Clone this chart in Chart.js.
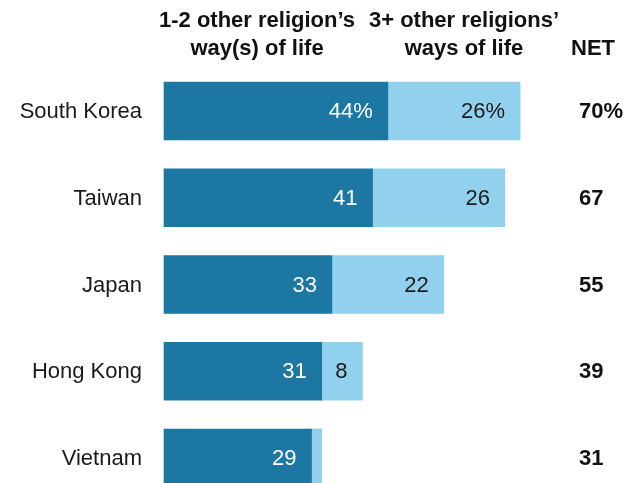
<!DOCTYPE html>
<html>
<head>
<meta charset="utf-8">
<script src="https://cdn.jsdelivr.net/npm/chart.js@4/dist/chart.umd.min.js"></script>
<style>
  html, body { margin: 0; padding: 0; background: #fff; }
  #wrap { width: 631px; height: 483px; position: relative; }
</style>
</head>
<body>
<div id="wrap"><canvas id="main"></canvas></div>
<script>
const countries = ["South Korea", "Taiwan", "Japan", "Hong Kong", "Vietnam"];
const fewReligions = [44, 41, 33, 31, 29];
const manyReligions = [26, 26, 22, 8, 2];
const netValues = [70, 67, 55, 39, 31];
const headers = [
  ["1-2 other religion\u2019s", "way(s) of life"],
  ["3+ other religions\u2019", "ways of life"]
];

const FONT = '"Liberation Sans", Arial, sans-serif';
const DARK = "#1c77a3";
const LIGHT = "#92d1ee";

const labels = {
  id: "labels",
  afterDatasetsDraw(chart) {
    const ctx = chart.ctx;
    const yScale = chart.scales.y;
    ctx.save();
    ctx.textBaseline = "middle";

    // values inside the bars
    chart.data.datasets.forEach((ds, di) => {
      const meta = chart.getDatasetMeta(di);
      meta.data.forEach((bar, i) => {
        const v = ds.data[i];
        if (v < 5) return;
        ctx.font = "22px " + FONT;
        ctx.textAlign = "right";
        ctx.fillStyle = di === 0 ? "#ffffff" : "#1a1a1a";
        ctx.fillText(i === 0 ? v + "%" : String(v), bar.x - 15, bar.y + 1);
      });
    });

    // country names + NET column
    countries.forEach((c, i) => {
      const y = yScale.getPixelForValue(i) + 1;
      ctx.font = "22px " + FONT;
      ctx.textAlign = "right";
      ctx.fillStyle = "#1a1a1a";
      ctx.fillText(c, 142, y);
      ctx.font = "bold 22px " + FONT;
      ctx.textAlign = "left";
      ctx.fillStyle = "#111111";
      ctx.fillText(i === 0 ? netValues[i] + "%" : String(netValues[i]), 579, y);
    });

    // column headings
    ctx.font = "bold 22px " + FONT;
    ctx.textAlign = "center";
    ctx.fillStyle = "#111111";
    const cx = [257, 464];
    headers.forEach((h, k) => {
      ctx.fillText(h[0], cx[k], 21);
      ctx.fillText(h[1], cx[k], 49);
    });
    ctx.fillText("NET", 593, 49);
    ctx.restore();
  }
};

new Chart(document.getElementById("main"), {
  type: "bar",
  data: {
    labels: countries,
    datasets: [
      { label: "1-2", data: fewReligions, backgroundColor: DARK, barThickness: 58, clip: false },
      { label: "3+", data: manyReligions, backgroundColor: LIGHT, barThickness: 58, clip: false }
    ]
  },
  options: {
    indexAxis: "y",
    responsive: true,
    maintainAspectRatio: false,
    animation: false,
    layout: { padding: { left: 164, right: 60, top: 111, bottom: 25 } },
    plugins: { legend: { display: false }, tooltip: { enabled: false } },
    scales: {
      x: { stacked: true, min: 0, max: 80, display: false },
      y: { stacked: true, offset: false, display: false }
    }
  },
  plugins: [labels]
});
</script>
</body>
</html>
